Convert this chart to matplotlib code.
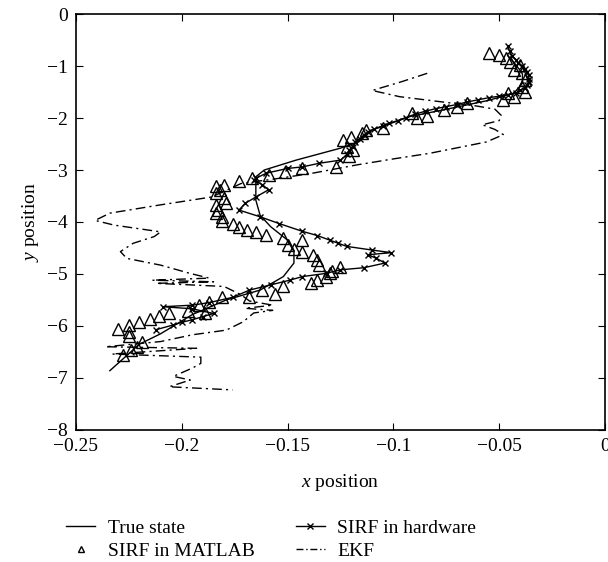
import matplotlib
matplotlib.use("Agg")
import matplotlib.pyplot as plt
from matplotlib.lines import Line2D

plt.rcParams["font.family"] = ["Liberation Serif", "DejaVu Serif"]
plt.rcParams["mathtext.fontset"] = "custom"
plt.rcParams["mathtext.it"] = "Liberation Serif:italic"
plt.rcParams["mathtext.rm"] = "Liberation Serif"

# true trajectory
true_x = [-0.046, -0.042, -0.039, -0.039, -0.043, -0.055, -0.076, -0.092, -0.110, -0.116,
          -0.125, -0.146, -0.161, -0.165, -0.165, -0.165, -0.163, -0.158, -0.150, -0.147,
          -0.147, -0.152, -0.163, -0.179, -0.195, -0.210, -0.220, -0.234]
true_y = [-0.80, -0.98, -1.15, -1.33, -1.52, -1.66, -1.84, -1.97, -2.23, -2.45,
          -2.58, -2.81, -3.00, -3.13, -3.38, -3.58, -3.87, -4.09, -4.35, -4.57,
          -4.79, -5.05, -5.31, -5.50, -5.78, -6.15, -6.35, -6.86]

# SIRF in hardware
hw_x = [-0.046, -0.045, -0.044, -0.042, -0.041, -0.039, -0.038, -0.037, -0.036, -0.036,
        -0.036, -0.037, -0.038, -0.040, -0.042, -0.046, -0.050, -0.055, -0.060, -0.065,
        -0.070, -0.075, -0.080, -0.085, -0.090, -0.094, -0.098, -0.102, -0.105, -0.109,
        -0.112, -0.114, -0.116, -0.118, -0.119, -0.121, -0.122, -0.125, -0.135, -0.143,
        -0.150, -0.160, -0.165, -0.166, -0.162, -0.159, -0.165, -0.170, -0.173, -0.163,
        -0.154, -0.143, -0.136, -0.130, -0.126, -0.122, -0.110, -0.101, -0.112, -0.108,
        -0.104, -0.114, -0.125, -0.132, -0.143, -0.149, -0.158, -0.168, -0.176, -0.187,
        -0.195, -0.209, -0.195, -0.185, -0.190, -0.195, -0.200, -0.204, -0.212]
hw_y = [-0.62, -0.72, -0.80, -0.88, -0.95, -1.00, -1.05, -1.12, -1.18, -1.24,
        -1.30, -1.36, -1.42, -1.47, -1.52, -1.55, -1.58, -1.61, -1.65, -1.69,
        -1.74, -1.78, -1.82, -1.87, -1.93, -1.99, -2.05, -2.10, -2.15, -2.21,
        -2.27, -2.33, -2.40, -2.47, -2.55, -2.62, -2.70, -2.81, -2.87, -2.94,
        -2.97, -3.06, -3.16, -3.19, -3.28, -3.38, -3.52, -3.64, -3.77, -3.90,
        -4.03, -4.18, -4.26, -4.35, -4.41, -4.47, -4.54, -4.59, -4.63, -4.70,
        -4.79, -4.88, -4.92, -4.99, -5.05, -5.12, -5.21, -5.31, -5.45, -5.55,
        -5.60, -5.63, -5.67, -5.76, -5.82, -5.88, -5.93, -5.98, -6.07]

# SIRF in MATLAB
ml_x = [-0.055, -0.050, -0.047, -0.045, -0.040, -0.043, -0.039, -0.038, -0.039, -0.038,
        -0.043, -0.048, -0.046, -0.065, -0.070, -0.076, -0.084, -0.091, -0.089, -0.105,
        -0.113, -0.115, -0.120, -0.124, -0.122, -0.119, -0.121, -0.127, -0.143, -0.151,
        -0.159, -0.167, -0.173, -0.184, -0.180, -0.182, -0.184, -0.180, -0.179, -0.184,
        -0.183, -0.184, -0.181, -0.181, -0.176, -0.173, -0.169, -0.165, -0.160, -0.152,
        -0.150, -0.147, -0.143, -0.138, -0.136, -0.135, -0.125, -0.130, -0.136, -0.139,
        -0.152, -0.156, -0.162, -0.168, -0.181, -0.187, -0.192, -0.197, -0.206, -0.189,
        -0.230, -0.225, -0.225, -0.225, -0.220, -0.215, -0.211, -0.228, -0.224, -0.221,
        -0.219, -0.143, -0.129, -0.132]
ml_y = [-0.74, -0.79, -0.85, -0.92, -0.98, -1.08, -1.14, -1.27, -1.40, -1.49,
        -1.59, -1.65, -1.52, -1.72, -1.79, -1.85, -1.96, -1.91, -2.00, -2.20,
        -2.23, -2.29, -2.36, -2.42, -2.55, -2.62, -2.74, -2.94, -2.97, -3.03,
        -3.10, -3.16, -3.22, -3.31, -3.28, -3.38, -3.45, -3.54, -3.64, -3.67,
        -3.77, -3.83, -3.90, -3.98, -4.04, -4.10, -4.15, -4.20, -4.25, -4.31,
        -4.44, -4.51, -4.57, -4.63, -4.73, -4.83, -4.87, -4.99, -5.12, -5.18,
        -5.24, -5.38, -5.31, -5.44, -5.44, -5.53, -5.60, -5.72, -5.76, -5.76,
        -6.06, -5.98, -6.11, -6.20, -5.93, -5.87, -5.81, -6.56, -6.46, -6.40,
        -6.30, -4.35, -4.95, -5.05]

# EKF
ekf_x = [-0.084, -0.096, -0.110, -0.097, -0.075, -0.062, -0.052, -0.049, -0.050, -0.058,
         -0.052, -0.048, -0.056, -0.067, -0.083, -0.099, -0.117, -0.138, -0.154, -0.172,
         -0.186, -0.210, -0.234, -0.241, -0.232, -0.210, -0.213, -0.223, -0.229, -0.226,
         -0.210, -0.196, -0.187, -0.214, -0.185, -0.212, -0.180, -0.172, -0.168, -0.157,
         -0.170, -0.157, -0.166, -0.171, -0.179, -0.195, -0.210, -0.236, -0.193, -0.233,
         -0.191, -0.191, -0.195, -0.204, -0.196, -0.206, -0.176]
ekf_y = [-1.14, -1.30, -1.47, -1.59, -1.70, -1.76, -1.83, -1.95, -2.05, -2.13,
         -2.22, -2.32, -2.46, -2.55, -2.68, -2.78, -2.90, -3.06, -3.16, -3.26,
         -3.52, -3.67, -3.83, -3.97, -4.06, -4.19, -4.28, -4.41, -4.57, -4.70,
         -4.83, -4.99, -5.08, -5.12, -5.15, -5.18, -5.24, -5.40, -5.52, -5.60,
         -5.66, -5.70, -5.75, -5.92, -6.08, -6.17, -6.30, -6.40, -6.43, -6.54,
         -6.60, -6.72, -6.81, -6.97, -7.04, -7.17, -7.23]

x_ticks = [-0.25, -0.2, -0.15, -0.1, -0.05, 0]
x_labels = ["\u22120.25", "\u22120.2", "\u22120.15", "\u22120.1", "\u22120.05", "0"]
y_ticks = [0, -1, -2, -3, -4, -5, -6, -7, -8]
y_labels = ["0"] + ["\u2212%d" % i for i in range(1, 9)]

fig = plt.figure(figsize=(6.08, 5.62), dpi=100)
ax = fig.add_axes([0.125, 0.235, 0.87, 0.74])

ax.plot(true_x, true_y, color="black", linewidth=1.0)
ax.plot(hw_x, hw_y, color="black", linewidth=1.0, marker="x", markersize=5, markeredgewidth=1.0)
ax.plot(ml_x, ml_y, linestyle="none", marker="^", markersize=8, markerfacecolor="none",
        markeredgecolor="black", markeredgewidth=1.0)
ax.plot(ekf_x, ekf_y, color="black", linewidth=1.0, linestyle=(0, (7, 3, 1.5, 3)))

ax.set_xlim(-0.25, 0)
ax.set_ylim(-8, 0)
ax.set_xticks(x_ticks)
ax.set_xticklabels(x_labels)
ax.set_yticks(y_ticks)
ax.set_yticklabels(y_labels)
ax.tick_params(direction="in", top=True, right=True, length=5, labelsize=14, pad=6)
for spine in ax.spines.values():
    spine.set_linewidth(1.2)

ax.set_xlabel("$x$ position", fontsize=14, labelpad=12)
ax.set_ylabel("$y$ position", fontsize=14, labelpad=4)

handles = [
    Line2D([], [], color="black", linewidth=1.0),
    Line2D([], [], linestyle="none", marker="^", markersize=5, markerfacecolor="none",
           markeredgecolor="black"),
    Line2D([], [], color="black", linewidth=1.0, marker="x", markersize=5),
    Line2D([], [], color="black", linewidth=1.0, linestyle=(0, (5, 2, 1, 2))),
]
labels = ["True state", "SIRF in MATLAB", "SIRF in hardware", "EKF"]
fig.legend(handles, labels, loc="lower left", bbox_to_anchor=(0.08, -0.028), ncol=2,
           frameon=False, fontsize=14, handlelength=1.5, columnspacing=2.1,
           labelspacing=0.3, handletextpad=0.65)

fig.savefig("out.png", dpi=100)
